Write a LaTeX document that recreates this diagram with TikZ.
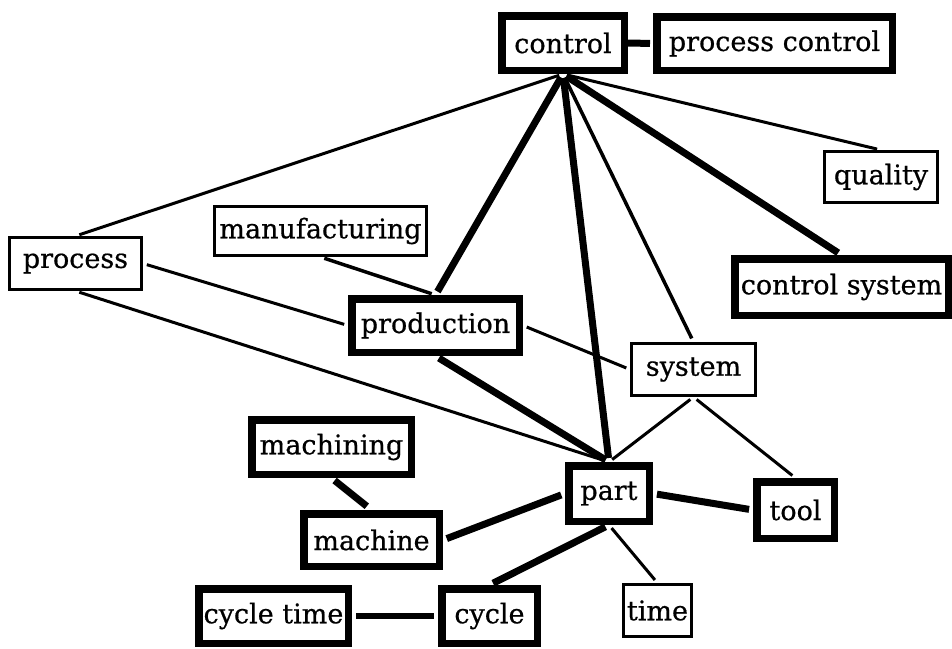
\documentclass[tikz,border=0pt]{standalone}
\usepackage{fontspec}
\setmainfont{DejaVu Serif}
\newfontfamily\labelfont[FakeBold=0.6]{DejaVu Serif}
\begin{document}
\begin{tikzpicture}[x=1pt,y=-1pt,
  every node/.style={font=\labelfont\fontsize{27}{30}\selectfont, inner sep=0pt, fill=white, align=center},
  heavybox/.style={draw, line width=7.5pt, outer sep=3.75pt},
  lightbox/.style={draw, line width=3pt, outer sep=1.5pt},
  light/.style={line width=3pt, shorten <=4pt, shorten >=4pt},
  heavy/.style={line width=7pt, shorten <=4pt, shorten >=4pt}]
\useasboundingbox (0,0) rectangle (952,648);
\fill[white] (0,0) rectangle (952,648);

% nodes: centre, outer size minus border width
\node[heavybox, minimum width=122.5pt, minimum height=54.5pt] (control) at (563,43) {control};
\node[heavybox, minimum width=235.5pt, minimum height=53.5pt] (pctrl) at (774.5,43.5) {process control};
\node[lightbox, minimum width=113pt, minimum height=51pt] (quality) at (881,177) {quality};
\node[heavybox, minimum width=213.5pt, minimum height=56.5pt] (csys) at (841.5,287) {control system};
\node[lightbox, minimum width=212pt, minimum height=49pt] (manuf) at (320.5,231) {manufacturing};
\node[lightbox, minimum width=132pt, minimum height=52pt] (process) at (75.5,263.5) {process};
\node[heavybox, minimum width=167.5pt, minimum height=53.5pt] (production) at (435.5,325.5) {production};
\node[lightbox, minimum width=124pt, minimum height=52pt] (system) at (693.5,369.5) {system};
\node[heavybox, minimum width=159.5pt, minimum height=54.5pt] (machining) at (331.5,447) {machining};
\node[heavybox, minimum width=80.5pt, minimum height=55.5pt] (part) at (609,493.5) {part};
\node[heavybox, minimum width=77.5pt, minimum height=56.5pt] (tool) at (795.5,510) {tool};
\node[heavybox, minimum width=135.5pt, minimum height=52.5pt] (machine) at (371.5,540) {machine};
\node[heavybox, minimum width=149.5pt, minimum height=54.5pt] (ctime) at (273.5,616) {cycle time};
\node[heavybox, minimum width=95.5pt, minimum height=54.5pt] (cycle) at (489.5,616) {cycle};
\node[lightbox, minimum width=68pt, minimum height=52pt] (time) at (657.5,610.5) {time};

% connectors
\draw[heavy, shorten <=0pt, shorten >=3pt] (control.east) -- (pctrl.west);
\draw[light] (control.south) -- (process.north);
\draw[light] (control.south) -- (quality.north);
\draw[heavy] (control.south) -- (csys.north);
\draw[light, line width=3.5pt] (control.south) -- (system.north);
\draw[heavy] (control.south) -- (part.north);
\draw[heavy] (control.south) -- (production.north);
\draw[light, line width=3.5pt] (manuf.south) -- (production.north);
\draw[light] (process.east) -- (production.west);
\draw[light] (process.south) -- (part.north);
\draw[heavy] (production.south) -- (part.north);
\draw[light] (production.east) -- (system.west);
\draw[light] (system.south) -- (part.north);
\draw[light] (system.south) -- (tool.north);
\draw[heavy] (part.east) -- (tool.west);
\draw[heavy] (part.west) -- (machine.east);
\draw[heavy, shorten >=6pt] (machining.south) -- (machine.north);
\draw[heavy] (part.south) -- (cycle.north);
\draw[light] (part.south) -- (time.north);
\draw[heavy, line width=6pt] (ctime.east) -- (cycle.west);
\end{tikzpicture}
\end{document}
